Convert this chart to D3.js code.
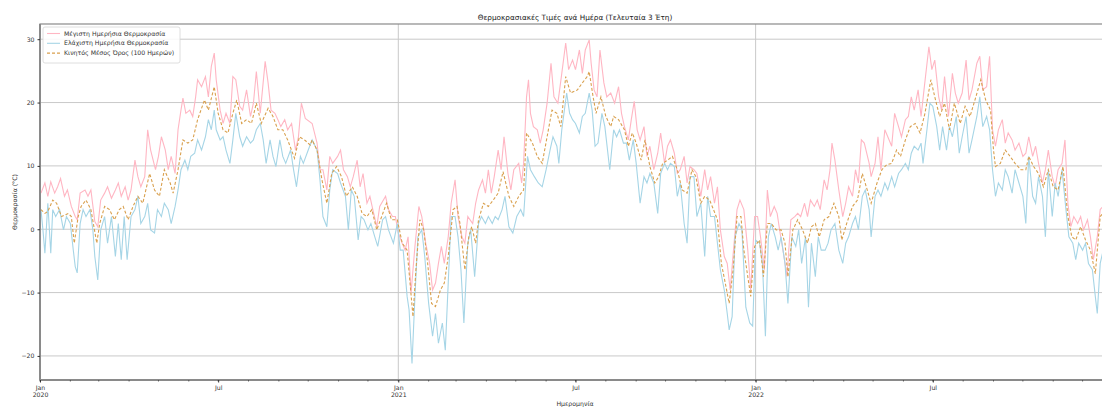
<!DOCTYPE html>
<html>
<head>
<meta charset="utf-8">
<script src="https://cdn.jsdelivr.net/npm/d3@7"></script>
<style>
  html, body { margin: 0; padding: 0; background: #fff; }
  svg { display: block; font-family: "DejaVu Sans", sans-serif; }
</style>
</head>
<body>
<svg id="chart" width="1102" height="407"></svg>
<script>
// ---------------- DATA (days since 2020-01-01, °C) ----------------
const startDate = "2020-01-01";
const endDay = 1093;

const maxDays = [1,5,8,11,15,18,21,25,28,32,36,38,41,46,49,52,56,59,62,66,69,73,77,80,83,87,90,93,97,100,103,107,110,113,118,121,124,128,131,134,138,141,144,146,149,153,156,159,161,165,169,172,175,178,180,184,187,190,194,197,200,204,207,211,215,218,221,225,230,233,236,240,243,246,250,253,257,261,264,267,271,
278,283,286,289,293,296,299,304,307,310,314,317,320,324,327,330,334,337,340,344,347,353,356,360,363,366,370,373,376,379,383,387,390,394,398,401,404,407,410,413,417,420,424,427,431,434,437,442,445,448,452,455,458,461,464,468,471,474,478,481,484,489,492,494,497,499,501,504,508,511,514,518,522,525,529,533,537,540,
544,547,551,554,557,561,563,566,569,572,576,579,583,587,591,594,597,601,604,607,610,613,617,620,623,627,631,634,638,641,644,648,651,654,658,661,664,668,671,675,679,682,685,689,692,695,699,702,705,709,712,715,719,723,726,730,733,736,740,743,746,750,753,756,760,763,767,771,774,777,781,784,787,791,794,797,801,804,807,809,812,
816,820,823,826,830,833,836,839,842,847,849,853,856,859,863,866,870,873,877,880,884,887,890,893,897,900,903,908,911,914,918,921,924,928,932,935,938,942,946,949,952,957,960,963,967,970,973,976,979,983,986,989,993,996,1000,1004,1007,1010,1014,1017,1020,1024,1027,1030,1034,1037,1040,1044,1047,1050,1053,1056,1060,1063,1066,1070,1073,1076,1080,1083,1088];
const maxValues = [5.7,7.3,5.2,7.5,5.7,6.7,8.0,5.2,6.2,3.6,2.0,1.5,5.7,6.2,5.2,6.2,1.2,0.4,4.6,5.7,6.7,4.9,6.2,7.3,5.2,6.7,4.6,6.2,10.9,8.3,6.7,8.3,15.7,12.5,9.4,11.5,14.6,12.5,9.4,11.5,8.8,15.7,18.8,20.7,18.3,18.8,17.8,20.9,23.6,22.5,24.1,20.9,25.7,27.8,23.6,18.8,16.7,18.3,16.7,24.1,23.6,19.4,18.8,22.0,17.8,19.9,24.9,18.3,26.5,23.1,18.8,18.3,17.3,16.2,17.3,15.7,16.7,12.5,14.6,19.9,17.5,
16.7,13.6,9.4,9.4,6.2,11.5,10.4,11.5,12.5,9.4,8.3,6.7,8.3,10.9,6.7,8.8,4.1,5.2,3.1,0.4,3.6,5.2,3.1,2.0,2.0,-0.6,-2.2,-3.3,-1.2,-10.1,-2.7,3.6,2.0,-2.2,-5.4,-9.6,-8.5,-5.4,-2.7,-5.4,-1.2,4.1,7.8,2.0,-1.2,-2.2,2.0,0.9,4.1,6.2,7.8,5.7,9.4,5.7,8.3,12.5,9.4,14.6,8.8,6.2,9.4,10.4,7.3,10.4,20.9,23.6,18.3,16.2,15.7,13.6,15.7,19.9,26.2,20.9,19.9,24.6,29.4,25.2,
26.7,25.2,28.3,24.6,28.3,29.9,26.2,22.0,20.9,28.3,23.1,20.9,21.5,19.9,22.5,18.3,16.2,14.1,17.3,20.2,15.7,14.1,16.2,11.5,13.1,9.4,12.0,15.2,10.4,13.1,14.1,12.0,8.8,9.4,11.5,7.3,9.9,9.4,8.8,5.2,9.4,6.2,8.3,4.1,6.7,-0.1,-4.3,-5.4,-9.6,-2.2,3.1,4.6,3.1,-3.3,-9.6,2.0,2.0,-1.2,-6.4,6.2,2.0,3.6,2.5,-0.6,-4.3,-7.5,1.5,2.0,2.5,2.0,4.1,2.0,4.6,3.6,4.6,3.1,7.8,6.2,9.4,13.6,10.9,
6.2,2.0,4.1,6.7,5.2,9.4,7.3,14.1,13.6,10.4,8.3,10.4,14.6,9.4,15.7,14.6,13.1,18.3,16.2,14.6,17.3,17.8,20.9,18.8,22.0,17.8,22.0,28.8,25.2,26.7,20.9,18.8,24.1,17.8,24.6,21.5,19.9,21.5,26.7,20.4,22.0,26.2,27.3,22.0,22.5,27.3,15.7,13.1,15.7,17.3,13.6,15.2,14.1,12.5,13.6,11.5,12.0,14.6,11.5,13.1,10.4,7.3,9.4,12.5,8.3,6.7,9.4,10.4,14.1,4.1,0.4,2.0,0.9,2.0,-0.1,1.5,-1.2,-4.8,-1.2,3.1,4.0];

const minDays = [1,3,5,8,11,13,16,20,24,27,31,34,36,38,41,44,47,51,54,56,59,62,66,69,73,77,80,83,86,89,93,97,100,103,107,110,113,117,120,124,127,131,134,138,141,144,148,151,154,158,161,165,169,172,175,178,180,184,187,190,194,197,200,204,207,211,215,218,221,225,228,231,235,238,241,245,248,251,256,259,262,266,269,
274,278,283,286,289,293,296,299,304,307,312,315,318,321,325,328,331,335,338,342,345,350,353,356,361,365,368,371,375,377,380,383,386,390,393,397,401,404,407,411,414,417,420,424,427,430,433,437,440,444,448,451,455,458,462,465,468,472,475,479,483,487,491,494,498,501,505,509,513,517,521,524,528,530,533,538,541,
544,547,551,554,557,561,564,567,570,574,577,582,586,589,592,596,599,602,606,609,613,617,620,623,627,631,634,638,641,644,648,651,654,658,661,664,668,671,675,679,682,685,689,692,695,699,702,704,707,710,714,717,721,725,728,731,735,738,741,744,747,751,754,757,761,764,768,772,775,778,782,785,788,792,795,798,802,805,808,
812,816,820,823,826,830,833,836,840,843,847,849,853,856,859,863,866,870,873,877,880,884,887,890,893,897,900,902,906,909,912,916,919,922,926,929,932,936,939,942,946,949,952,957,960,963,967,970,973,976,979,983,986,989,993,996,1000,1004,1007,1010,1014,1017,1020,1024,1027,1030,1034,1037,1040,1044,1048,1051,1055,1058,1061,1065,1068,1071,1075,1078,1080,1083,1088];
const minValues = [3.1,-0.1,-3.8,4.1,-3.8,3.1,2.0,3.1,-0.1,2.0,0.9,-3.3,-5.9,-6.9,0.9,3.1,2.0,3.1,-0.1,-4.3,-8.0,-0.1,2.0,-2.2,2.0,-4.3,0.9,-4.8,2.0,-4.8,2.0,3.1,5.2,0.9,2.0,4.1,-0.1,-0.6,3.1,2.0,4.1,3.1,0.9,3.6,6.2,9.4,10.9,9.4,11.5,12.0,14.1,12.5,14.6,17.3,15.7,18.8,15.7,14.1,14.6,12.5,10.4,14.1,18.3,14.6,13.1,14.6,13.6,14.1,15.7,16.7,14.1,10.4,14.1,11.5,9.9,14.1,11.5,10.4,12.5,9.4,6.7,11.5,10.4,
12.5,14.1,12.5,7.8,2.0,0.4,6.2,9.4,8.8,7.3,5.2,-0.1,6.2,5.2,-1.7,2.0,1.5,-0.1,0.9,-1.2,-2.7,1.5,2.0,-0.1,-2.2,0.9,-3.3,-3.3,-10.6,-12.7,-21.2,-10.6,-1.2,-0.1,-4.3,-11.7,-16.9,-13.3,-18.0,-14.8,-19.1,-8.5,2.0,2.0,-1.2,-6.4,-14.8,-2.2,-0.1,-7.5,0.9,2.0,0.9,2.0,0.9,2.0,1.5,3.1,5.2,0.4,-0.6,2.0,3.1,2.0,11.5,9.4,8.3,7.3,6.7,9.4,12.5,14.6,13.1,10.4,15.7,21.5,18.3,
17.3,16.7,15.2,17.8,18.3,21.5,18.8,13.1,13.6,18.3,16.2,9.4,15.7,14.6,15.7,13.6,13.6,10.9,14.1,10.4,4.1,8.3,7.3,8.8,7.3,2.5,8.8,10.4,9.4,10.4,9.9,5.2,7.3,0.9,-2.2,8.3,8.3,2.0,4.1,-4.3,5.2,2.0,2.0,-2.2,-6.4,-9.6,-13.3,-15.9,-13.8,-1.2,0.9,-0.1,-12.3,-14.8,-15.3,-1.7,-2.2,-5.4,-16.9,-1.2,0.9,-1.2,-3.3,-1.2,-5.4,-11.7,-1.2,-2.7,-0.1,-5.4,-1.2,-12.3,-2.2,-7.5,-1.2,-3.3,-3.3,-2.2,-0.1,
0.9,-3.3,-5.4,-2.2,-1.2,0.9,2.0,-0.1,5.2,6.2,3.1,-1.2,5.2,6.2,5.2,7.3,6.2,8.3,6.7,8.8,9.4,10.4,9.4,12.0,13.1,12.5,13.6,10.4,15.7,19.9,19.4,16.2,12.5,16.2,12.5,16.2,14.6,17.8,12.0,14.6,17.8,12.0,14.1,17.8,20.9,16.2,17.8,15.7,9.4,5.2,7.3,6.2,9.4,8.3,5.7,9.4,7.3,5.2,0.9,11.5,5.2,4.1,8.3,5.2,-1.2,9.4,2.0,7.3,5.2,9.4,3.1,-1.2,-2.2,-4.8,-2.2,-3.3,-2.2,-5.4,-6.4,-10.6,-13.3,-5.4,-2.0];

const avgDays = [1,5,8,13,17,22,29,32,35,39,42,47,52,58,61,66,71,76,81,85,90,95,100,105,112,117,122,127,133,136,141,146,151,156,161,168,172,178,182,187,192,197,201,206,211,216,221,226,233,238,243,248,253,260,265,271,276,
278,283,288,293,298,303,308,313,319,324,329,334,339,344,349,354,359,365,370,375,378,381,384,388,392,396,400,404,409,413,417,422,426,429,434,438,441,445,448,453,458,463,468,473,479,484,489,494,497,503,508,513,518,523,528,532,537,542,
549,554,559,561,565,568,573,578,583,586,591,597,601,605,609,614,618,623,628,632,636,641,646,651,656,661,666,670,675,679,684,688,692,696,700,704,708,712,716,719,723,726,730,735,739,743,747,752,757,761,764,769,774,779,784,788,792,796,801,806,811,
816,819,824,830,835,840,845,849,855,860,865,870,875,879,884,889,894,899,904,910,914,919,924,929,934,940,945,950,956,961,966,971,974,976,981,986,991,996,1002,1007,1010,1015,1020,1025,1030,1035,1040,1045,1050,1054,1058,1063,1068,1073,1078,1083,1088];
const avgValues = [3.1,2.5,2.8,4.6,4.1,2.0,2.5,2.0,-2.2,2.0,3.6,4.6,3.1,-2.2,0.9,3.6,3.1,1.5,3.1,3.6,1.5,3.6,5.2,4.1,8.8,6.2,5.2,9.4,7.3,5.7,9.4,14.1,13.6,14.1,17.3,20.4,18.8,22.5,18.3,15.7,15.2,18.3,20.4,16.7,17.3,16.7,19.9,16.7,19.1,17.8,15.7,15.7,14.1,11.2,14.6,14.0,13.3,
14.1,12.5,7.8,4.1,8.8,9.9,8.3,5.2,6.7,5.2,2.5,2.0,3.1,-0.1,2.0,4.1,1.5,1.5,-2.2,-3.3,-8.5,-13.8,-6.4,1.5,-0.1,-5.4,-11.7,-12.2,-9.6,-8.5,-4.3,3.1,3.6,0.9,-6.4,-1.2,0.4,-2.2,1.5,4.1,3.6,4.6,5.7,9.1,5.2,3.6,5.2,6.2,15.2,13.6,11.5,10.4,14.6,18.8,18.3,16.2,24.1,21.5,
22.0,23.1,24.1,24.9,20.9,18.3,20.9,17.8,16.2,17.8,17.3,15.7,13.1,15.2,13.6,10.9,14.1,9.9,7.3,8.3,10.4,10.9,11.5,9.4,6.2,5.7,9.4,8.3,4.1,5.2,4.6,3.1,1.5,-5.4,-8.5,-11.7,-6.4,2.0,2.0,-3.3,-7.5,-10.6,-2.7,-1.7,-7.5,0.9,0.9,-0.1,-0.1,-2.2,-7.5,-0.1,1.5,-0.1,-2.2,0.4,0.9,-1.2,1.5,2.0,4.1,
2.0,-1.7,0.9,3.6,4.6,8.8,6.2,4.1,7.3,9.4,10.2,10.4,12.5,11.5,14.1,16.2,16.7,15.2,18.3,23.6,20.9,17.8,19.9,15.7,19.9,16.7,19.4,17.8,20.9,23.6,20.4,18.8,12.5,9.9,10.4,12.5,11.5,10.4,9.4,9.4,11.5,9.9,8.8,6.7,9.4,6.7,6.2,9.9,2.0,-1.2,-1.7,0.4,-1.7,-3.3,-7.0,2.0,3.0];

const yTickValues = [-20, -10, 0, 10, 20, 30];
const xMajorTicks = ["2020-01-01","2020-07-01","2021-01-01","2021-07-01","2022-01-01","2022-07-01"];
const xMajorLabels = [["Jan","2020"],["Jul"],["Jan","2021"],["Jul"],["Jan","2022"],["Jul"]];
const xGridDates = ["2021-01-01","2022-01-01"];
const seriesNames = ["Μέγιστη Ημερήσια Θερμοκρασία","Ελάχιστη Ημερήσια Θερμοκρασία","Κινητός Μέσος Όρος (100 Ημερών)"];
const titleText = "Θερμοκρασιακές Τιμές ανά Ημέρα (Τελευταία 3 Έτη)";
const xLabelText = "Ημερομηνία";
const yLabelText = "Θερμοκρασία (°C)";

// ---------------- LAYOUT ----------------
const W = 1102, H = 407;
const m = { left: 40, right: 1110, top: 24, bottom: 380 };
const colors = { max: "#ffb6c3", min: "#a6d5e6", avg: "#d9a04e" };

const parse = d3.utcParse("%Y-%m-%d");
const t0 = parse(startDate);
const toDate = d => d3.utcDay.offset(t0, d);

const x = d3.scaleUtc().domain([t0, toDate(endDay)]).range([m.left, m.right]);
const y = d3.scaleLinear().domain([-23.8, 32.4]).range([m.bottom, m.top]);

const svg = d3.select("#chart");
svg.append("rect").attr("width", W).attr("height", H).attr("fill", "#fff");

svg.append("defs").append("clipPath").attr("id", "plotclip")
  .append("rect").attr("x", m.left).attr("y", m.top)
  .attr("width", m.right - m.left).attr("height", m.bottom - m.top);

// grid
const grid = svg.append("g");
grid.selectAll("line.h").data(yTickValues).join("line")
  .attr("x1", m.left).attr("x2", m.right)
  .attr("y1", d => y(d)).attr("y2", d => y(d))
  .attr("stroke", "#c9c9c9").attr("stroke-width", 1);
grid.selectAll("line.v").data(xGridDates).join("line")
  .attr("y1", m.top).attr("y2", m.bottom)
  .attr("x1", d => x(parse(d))).attr("x2", d => x(parse(d)))
  .attr("stroke", "#c9c9c9").attr("stroke-width", 1);

// lines
const mk = (days, vals) => days.map((d, i) => ({ date: toDate(d), v: vals[i] }));
const lineGen = d3.line().x(d => x(d.date)).y(d => y(d.v));
const plot = svg.append("g").attr("clip-path", "url(#plotclip)");
plot.append("path").datum(mk(maxDays, maxValues)).attr("d", lineGen)
  .attr("fill", "none").attr("stroke", colors.max).attr("stroke-width", 1.1);
plot.append("path").datum(mk(minDays, minValues)).attr("d", lineGen)
  .attr("fill", "none").attr("stroke", colors.min).attr("stroke-width", 1.1);
plot.append("path").datum(mk(avgDays, avgValues)).attr("d", lineGen)
  .attr("fill", "none").attr("stroke", colors.avg).attr("stroke-width", 1.1)
  .attr("stroke-dasharray", "3,2");

// frame
svg.append("rect").attr("x", m.left).attr("y", m.top)
  .attr("width", m.right - m.left).attr("height", m.bottom - m.top)
  .attr("fill", "none").attr("stroke", "#8a8a8a").attr("stroke-width", 1.2);
svg.append("line").attr("x1", m.left).attr("x2", m.left).attr("y1", m.top).attr("y2", m.bottom)
  .attr("stroke", "#8a8a8a").attr("stroke-width", 2);
svg.append("line").attr("x1", m.left).attr("x2", m.right).attr("y1", m.bottom).attr("y2", m.bottom)
  .attr("stroke", "#8a8a8a").attr("stroke-width", 2);

// y axis
const yAxis = d3.axisLeft(y).tickValues(yTickValues).tickSize(2.5).tickPadding(3)
  .tickFormat(d => d3.format("d")(d).replace("-", "\u2212"));
const gy = svg.append("g").attr("transform", `translate(${m.left},0)`).call(yAxis);
gy.select(".domain").remove();
gy.selectAll("line").attr("stroke", "#333");
gy.selectAll("text").attr("font-size", 6.2).attr("fill", "#333").attr("font-family", "DejaVu Sans");

// x axis minor ticks
const minorDates = d3.utcMonth.range(t0, toDate(endDay));
const gx = svg.append("g");
gx.selectAll("line.minor").data(minorDates).join("line")
  .attr("x1", d => x(d)).attr("x2", d => x(d))
  .attr("y1", m.bottom).attr("y2", m.bottom + 1.5)
  .attr("stroke", "#444").attr("stroke-width", 0.8);
const xAxis = d3.axisBottom(x).tickValues(xMajorTicks.map(parse)).tickSize(2.5).tickPadding(3)
  .tickFormat(() => "");
const gxa = svg.append("g").attr("transform", `translate(0,${m.bottom})`).call(xAxis);
gxa.select(".domain").remove();
gxa.selectAll("line").attr("stroke", "#333");
gxa.selectAll(".tick").each(function(d, i) {
  const t = d3.select(this).select("text").attr("font-size", 6.2).attr("fill", "#333")
    .attr("font-family", "DejaVu Sans");
  xMajorLabels[i].forEach((s, k) => {
    t.append("tspan").attr("x", 0).attr("dy", k === 0 ? "0.71em" : "1.2em").text(s);
  });
});

// labels
svg.append("text").attr("x", (m.left + m.right) / 2).attr("y", 20)
  .attr("text-anchor", "middle").attr("font-size", 7.3).attr("fill", "#222").text(titleText);
svg.append("text").attr("x", (m.left + m.right) / 2).attr("y", 406)
  .attr("text-anchor", "middle").attr("font-size", 6.2).attr("fill", "#333").text(xLabelText);
svg.append("text").attr("transform", `translate(17,${(m.top + m.bottom) / 2}) rotate(-90)`)
  .attr("text-anchor", "middle").attr("font-size", 6.2).attr("fill", "#333").text(yLabelText);

// legend
const lg = svg.append("g").attr("transform", "translate(43,27)");
lg.append("rect").attr("width", 137).attr("height", 36).attr("rx", 2)
  .attr("fill", "#fff").attr("fill-opacity", 0.85).attr("stroke", "#d6d6d6").attr("stroke-width", 0.8);
const legendItems = [
  { name: seriesNames[0], color: colors.max, dash: null },
  { name: seriesNames[1], color: colors.min, dash: null },
  { name: seriesNames[2], color: colors.avg, dash: "3,2" }
];
legendItems.forEach((it, i) => {
  const yy = 6.5 + i * 9.8;
  lg.append("line").attr("x1", 4).attr("x2", 17).attr("y1", yy).attr("y2", yy)
    .attr("stroke", it.color).attr("stroke-width", 1.1)
    .attr("stroke-dasharray", it.dash);
  lg.append("text").attr("x", 21).attr("y", yy).attr("dy", "0.35em")
    .attr("font-size", 6.2).attr("fill", "#333").text(it.name);
});
</script>
</body>
</html>
